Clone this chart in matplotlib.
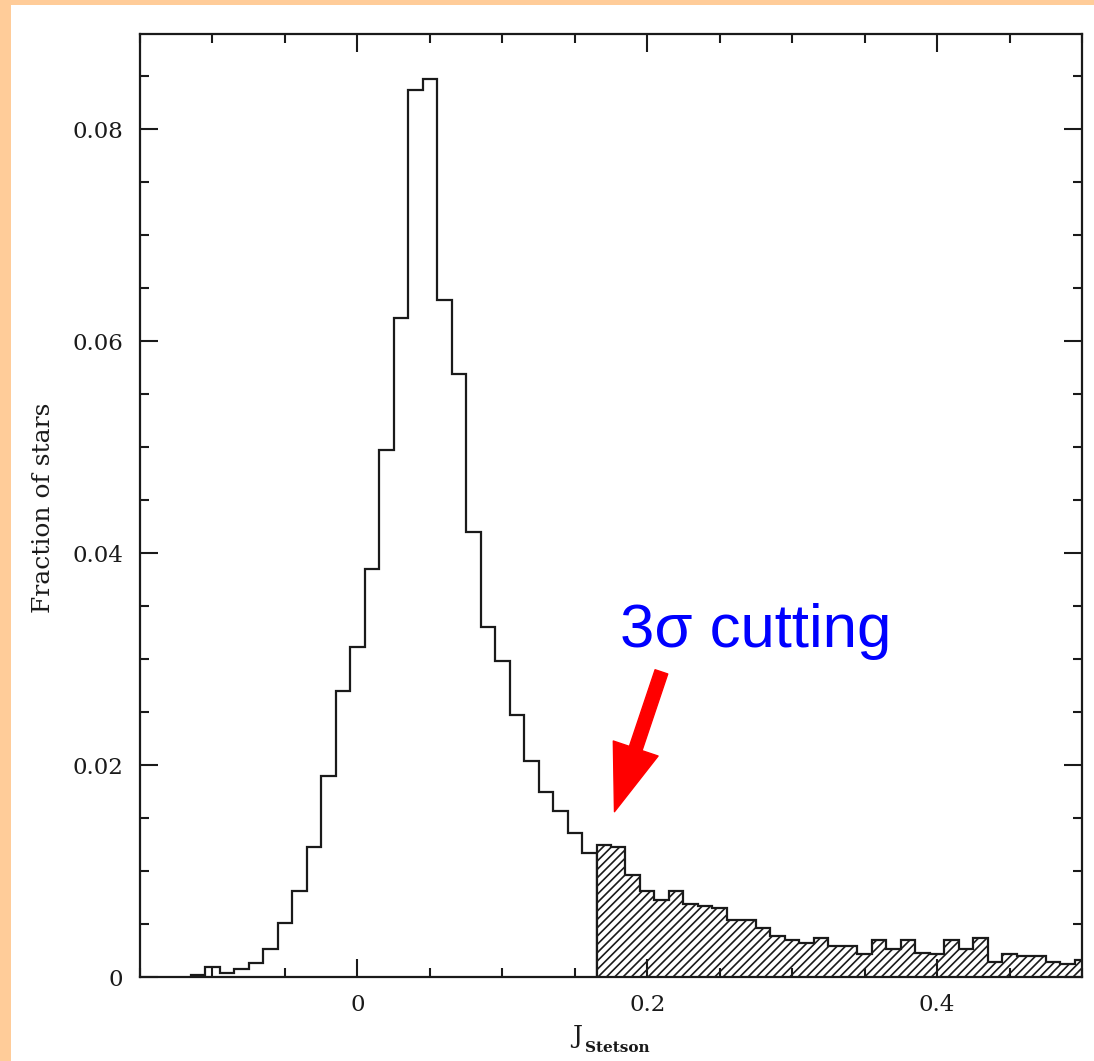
import numpy as np
import matplotlib
matplotlib.use("Agg")
import matplotlib.pyplot as plt
from matplotlib.patches import Rectangle
from matplotlib.ticker import MultipleLocator, FuncFormatter

# histogram of the Stetson J index, bin width 0.01
bin_width = 0.01
first_edge = -0.115

# bins below the 3-sigma cut (-0.115 .. 0.165)
core_frac = [0.00015, 0.0009, 0.0004, 0.00075, 0.0013, 0.0026, 0.0051, 0.0081,
             0.0123, 0.0190, 0.0270, 0.0311, 0.0385, 0.0497, 0.0622, 0.0837,
             0.0848, 0.0639, 0.0569, 0.0420, 0.0330, 0.0298, 0.0247, 0.0204,
             0.0175, 0.0157, 0.0136, 0.0117]

# bins above the cut (0.165 .. 0.505), hatched
tail_frac = [0.0125, 0.0123, 0.0096, 0.0081, 0.0073, 0.0081, 0.0069, 0.0067,
             0.0065, 0.0054, 0.0054, 0.0046, 0.0039, 0.0035, 0.0032, 0.0037,
             0.0029, 0.0029, 0.0022, 0.0035, 0.0026, 0.0035, 0.0023, 0.0022,
             0.0035, 0.0026, 0.0037, 0.0014, 0.0022, 0.0020, 0.0020, 0.0014,
             0.0012, 0.0016]

ink = "#1a1a1a"
serif = ["DejaVu Serif"]
plt.rcParams["hatch.linewidth"] = 1.2

core_edges = first_edge + bin_width * np.arange(len(core_frac) + 1)
tail_edges = core_edges[-1] + bin_width * np.arange(len(tail_frac) + 1)

fig = plt.figure(figsize=(10.94, 10.61), dpi=100)
ax = fig.add_axes([140 / 1094, 84 / 1061, 942 / 1094, 943 / 1061])

ax.stairs(core_frac, core_edges, baseline=0, fill=False, color=ink, linewidth=1.6)
ax.stairs(tail_frac, tail_edges, baseline=0, fill=True, facecolor="white",
          edgecolor=ink, hatch="////", linewidth=1.6)

ax.set_xlim(-0.15, 0.5)
ax.set_ylim(0, 0.089)

ax.xaxis.set_major_locator(MultipleLocator(0.2))
ax.xaxis.set_minor_locator(MultipleLocator(0.05))
ax.yaxis.set_major_locator(MultipleLocator(0.02))
ax.yaxis.set_minor_locator(MultipleLocator(0.005))
fmt = FuncFormatter(lambda v, pos: "%g" % round(v, 3))
ax.xaxis.set_major_formatter(fmt)
ax.yaxis.set_major_formatter(fmt)

ax.tick_params(which="both", direction="in", top=True, right=True,
               color=ink, width=1.5)
ax.tick_params(which="major", length=13, labelsize=16.5)
ax.tick_params(axis="x", which="major", pad=12)
ax.tick_params(axis="y", which="major", pad=12)
ax.tick_params(which="minor", length=6.5)
for lab in ax.get_xticklabels() + ax.get_yticklabels():
    lab.set_family(serif)
    lab.set_color(ink)
for sp in ax.spines.values():
    sp.set_linewidth(1.6)
    sp.set_color(ink)

# axis titles
fig.text(44 / 1094, 1 - 508 / 1061, "Fraction of stars", rotation=90,
         ha="center", va="center", fontsize=18, family=serif, color=ink)
fig.text(577 / 1094, 1 - 1037 / 1061, "J", ha="center", va="center",
         fontsize=18, family=serif, color=ink)
fig.text(585 / 1094, 1 - 1048 / 1061, "Stetson", ha="left", va="center",
         fontsize=11, family=serif, fontweight="bold", color=ink)

# cut annotation
ax.text(0.181, 0.0311, "3σ cutting", color="#0000ff", fontsize=44.5,
        family=["Liberation Sans"], ha="left", va="baseline")
ax.annotate("", xy=(0.1774, 0.0156), xytext=(0.2098, 0.0288),
            arrowprops=dict(arrowstyle="simple,head_length=2.4,head_width=1.7,tail_width=0.48",
                            mutation_scale=20, color="#ff0000", shrinkA=0, shrinkB=0))

# peach frame along the top and left edges
fig.patches.append(Rectangle((0, 1 - 5 / 1061), 1, 5 / 1061, transform=fig.transFigure,
                             facecolor="#ffcc99", edgecolor="none", zorder=-1))
fig.patches.append(Rectangle((0, 0), 11 / 1094, 1, transform=fig.transFigure,
                             facecolor="#ffcc99", edgecolor="none", zorder=-1))

fig.savefig("out.png", dpi=100)
